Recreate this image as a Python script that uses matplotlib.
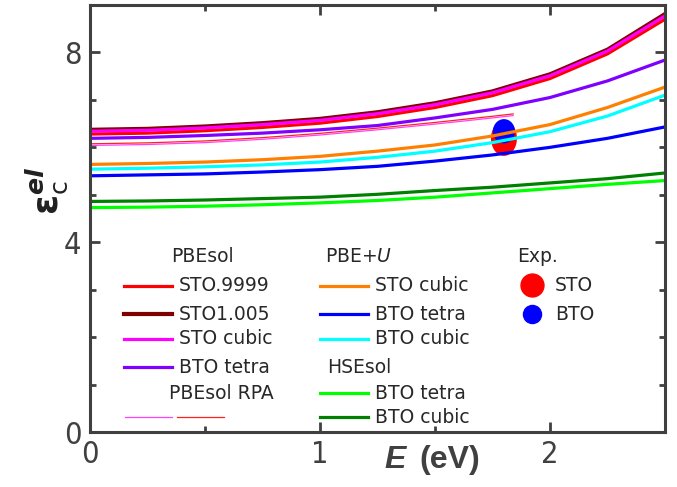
import matplotlib
matplotlib.use("Agg")
import matplotlib.pyplot as plt
from matplotlib.patches import Ellipse
from matplotlib.lines import Line2D
from matplotlib.ticker import MultipleLocator

# photon energy grid (eV)
E = [0.0, 0.25, 0.5, 0.75, 1.0, 1.25, 1.5, 1.75, 2.0, 2.25, 2.5]

# PBEsol
sto_9999 = [6.28, 6.30, 6.35, 6.42, 6.51, 6.65, 6.84, 7.09, 7.45, 7.97, 8.70]
sto_1005 = [6.38, 6.40, 6.45, 6.52, 6.61, 6.75, 6.94, 7.19, 7.55, 8.07, 8.82]
sto_cubic = [6.34, 6.36, 6.41, 6.48, 6.57, 6.71, 6.90, 7.15, 7.51, 8.03, 8.77]
bto_tetra = [6.19, 6.21, 6.25, 6.30, 6.37, 6.46, 6.62, 6.80, 7.05, 7.40, 7.84]

# PBE+U
u_sto_cubic = [5.64, 5.66, 5.69, 5.74, 5.81, 5.92, 6.05, 6.24, 6.48, 6.84, 7.27]
u_bto_tetra = [5.40, 5.42, 5.44, 5.48, 5.53, 5.60, 5.71, 5.84, 6.00, 6.19, 6.43]
u_bto_cubic = [5.54, 5.56, 5.59, 5.63, 5.69, 5.79, 5.92, 6.10, 6.33, 6.66, 7.10]

# HSEsol
h_bto_tetra = [4.73, 4.74, 4.76, 4.79, 4.83, 4.88, 4.95, 5.04, 5.13, 5.22, 5.30]
h_bto_cubic = [4.86, 4.87, 4.89, 4.92, 4.95, 5.01, 5.09, 5.16, 5.25, 5.34, 5.46]

# PBEsol RPA (shorter energy range)
E_rpa = [0.0, 0.25, 0.5, 0.75, 1.0, 1.25, 1.5, 1.75, 1.84]
rpa_sto = [6.04, 6.06, 6.10, 6.17, 6.26, 6.37, 6.49, 6.62, 6.67]
rpa_red = [6.075, 6.095, 6.135, 6.205, 6.295, 6.405, 6.525, 6.655, 6.705]

# experiment
exp_names = ["STO", "BTO"]
exp_E = [1.80, 1.80]
exp_eps = [6.19, 6.34]

GRAY = "#404040"
txt_font = ["DejaVu Sans"]
num_font = ["Liberation Sans Narrow", "DejaVu Sans"]

fig = plt.figure(figsize=(6.77, 4.87), dpi=100)
ax = fig.add_axes([0.1329, 0.1129, 0.8493, 0.8768])

# experimental points (under the curves)
ax.add_patch(Ellipse((exp_E[0], exp_eps[0]), 0.113, 0.74, color="#ff0000", lw=0, zorder=1))
ax.add_patch(Ellipse((exp_E[1], exp_eps[1]), 0.096, 0.51, color="#0000ff", lw=0, zorder=1))

lw = 2.3
ax.plot(E, h_bto_tetra, color="#00ff00", lw=lw)
ax.plot(E, h_bto_cubic, color="#008000", lw=lw)
ax.plot(E, u_bto_tetra, color="#0000ff", lw=lw)
ax.plot(E, u_bto_cubic, color="#00ffff", lw=lw)
ax.plot(E, u_sto_cubic, color="#ff8000", lw=lw)
ax.plot(E, bto_tetra, color="#8000ff", lw=lw)
ax.plot(E, sto_1005, color="#800000", lw=lw)
ax.plot(E, sto_9999, color="#ff0000", lw=lw)
ax.plot(E, sto_cubic, color="#ff00ff", lw=lw)
ax.plot(E_rpa, rpa_sto, color="#ff40ff", lw=0.9)
ax.plot(E_rpa, rpa_red, color="#ff2020", lw=0.9)

ax.set_xlim(0, 2.5)
ax.set_ylim(0, 9)
ax.xaxis.set_major_locator(MultipleLocator(1))
ax.xaxis.set_minor_locator(MultipleLocator(0.5))
ax.yaxis.set_major_locator(MultipleLocator(4))
ax.yaxis.set_minor_locator(MultipleLocator(1))
ax.tick_params(which="both", direction="in", top=True, right=True, color=GRAY, width=2)
ax.tick_params(which="major", length=7, labelsize=22, labelcolor=GRAY, pad=6)
ax.tick_params(which="minor", length=4)
for s in ax.spines.values():
    s.set_color(GRAY)
    s.set_linewidth(2.2)
for t in ax.get_xticklabels() + ax.get_yticklabels():
    t.set_family(num_font)
    t.set_stretch("condensed")

# axis labels
ax.text(0.530, -0.066, "E", transform=ax.transAxes, fontsize=23, fontweight="bold",
        fontstyle="italic", color=GRAY, ha="center", va="center", family="Liberation Sans")
ax.text(0.626, -0.066, "(eV)", transform=ax.transAxes, fontsize=23, fontweight="bold",
        color=GRAY, ha="center", va="center", family="Liberation Sans")
ax.text(-0.075, 0.565, r"$\mathbf{\varepsilon}_{\mathrm{c}}^{\mathbfit{el}}$", transform=ax.transAxes,
        fontsize=26, rotation=90, ha="center", va="center", color="#202020")

# hand-made legend
def key(x0, x1, y, color, w=2.3):
    ax.add_line(Line2D([x0, x1], [y, y], transform=ax.transAxes, color=color, lw=w, clip_on=False))

def label(x, y, s, ha="left"):
    ax.text(x, y, s, transform=ax.transAxes, fontsize=13.5, ha=ha, va="center",
            color="#282828", family=txt_font)

rows = [0.342, 0.276, 0.218, 0.152, 0.091, 0.035]
label(0.195, 0.410, "PBEsol", ha="center")
for y, c, s in zip(rows[:4], ["#ff0000", "#800000", "#ff00ff", "#8000ff"],
                   ["STO.9999", "STO1.005", "STO cubic", "BTO tetra"]):
    key(0.059, 0.143, y, c, 3.0 if c == "#800000" else 2.3)
    label(0.155, y, s)
label(0.228, rows[4], "PBEsol RPA", ha="center")
key(0.061, 0.143, rows[5], "#ff40ff", 0.9)
key(0.151, 0.233, rows[5], "#ff2020", 0.9)

label(0.409, 0.410, r"PBE+$\mathit{U}$")
for y, c, s in zip(rows[:3], ["#ff8000", "#0000ff", "#00ffff"],
                   ["STO cubic", "BTO tetra", "BTO cubic"]):
    key(0.400, 0.483, y, c)
    label(0.496, y, s)
label(0.412, rows[3], "HSEsol")
for y, c, s in zip(rows[4:], ["#00ff00", "#008000"], ["BTO tetra", "BTO cubic"]):
    key(0.400, 0.483, y, c)
    label(0.496, y, s)

label(0.743, 0.410, "Exp.")
ax.plot([0.769], [0.344], "o", color="#ff0000", ms=16.5, transform=ax.transAxes, clip_on=False)
ax.plot([0.769], [0.276], "o", color="#0000ff", ms=13, transform=ax.transAxes, clip_on=False)
label(0.809, 0.344, exp_names[0])
label(0.809, 0.276, exp_names[1])

fig.savefig("out.png", dpi=100)
